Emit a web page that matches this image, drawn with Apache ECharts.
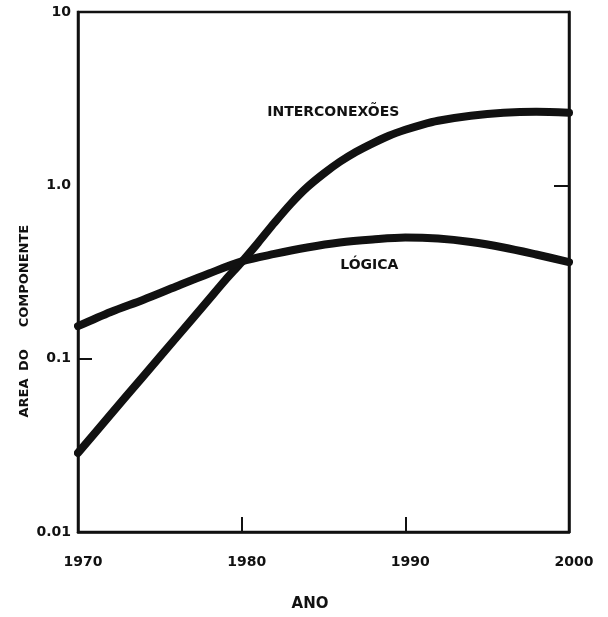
<!DOCTYPE html>
<html>
<head>
<meta charset="utf-8">
<script src="https://cdn.jsdelivr.net/npm/echarts@6/dist/echarts.min.js"></script>
<style>html,body{margin:0;padding:0;background:#fff}#c{width:608px;height:617px}</style>
</head>
<body>
<div id="c"></div>
<script>
const interYears = [1970,1972,1974,1976,1978,1979,1980,1981,1982,1983,1984,1985,1986,1987,1988,1989,1990,1991,1992,1994,1996,1998,2000];
const interconexoes = [0.0286,0.0477,0.0794,0.132,0.220,0.284,0.361,0.466,0.608,0.782,0.974,1.166,1.367,1.562,1.748,1.931,2.091,2.235,2.357,2.518,2.621,2.656,2.621];
const logicaYears = [1970,1972,1974,1976,1978,1980,1982,1984,1986,1988,1990,1992,1994,1996,1998,2000];
const logica = [0.154,0.186,0.219,0.261,0.310,0.364,0.402,0.438,0.468,0.487,0.500,0.493,0.471,0.438,0.399,0.361];
const xTicks = [1970,1980,1990,2000];
const yTicks = [0.01,0.1,1,10];
const yTickLabels = {"0.01":"0.01","0.1":"0.1","1":"1.0","10":"10"};
const seriesNames = ['INTERCONEXÕES','LÓGICA'];
const seriesLabelAt = [[1985.6, 2.63],[1987.8, 0.347]];
const xName = 'ANO';
const yNameWords = ['AREA','DO','COMPONENTE'];

const chart = echarts.init(document.getElementById('c'));
const font = '"DejaVu Sans", sans-serif';
const ink = '#111';
chart.setOption({
  backgroundColor: '#fff',
  animation: false,
  grid: {left: 78, top: 12, right: 39, bottom: 85, show: true, borderColor: ink, borderWidth: 2.5, backgroundColor: 'transparent'},
  xAxis: {
    type: 'value', min: 1970, max: 2000, interval: 10,
    axisLine: {lineStyle: {color: ink, width: 2.5}},
    axisTick: {inside: true, length: 15, lineStyle: {color: ink, width: 2}, customValues: [1980, 1990]},
    axisLabel: {color: ink, fontFamily: font, fontWeight: 'bold', fontSize: 14, margin: 23, padding: [0,0,0,10], customValues: xTicks, formatter: v => String(v)},
    splitLine: {show: false}
  },
  yAxis: [{
    type: 'log', min: 0.01, max: 10, logBase: 10,
    axisLine: {lineStyle: {color: ink, width: 2.5}},
    axisTick: {inside: true, length: 14, lineStyle: {color: ink, width: 2}, customValues: [0.1]},
    axisLabel: {color: ink, fontFamily: font, fontWeight: 'bold', fontSize: 14, margin: 7, customValues: yTicks,
      formatter: v => yTickLabels[String(+(+v).toPrecision(3))] || String(v)},
    splitLine: {show: false}
  },{
    type: 'log', min: 0.01, max: 10, logBase: 10, position: 'right',
    axisLine: {show: true, lineStyle: {color: ink, width: 2.5}},
    axisTick: {inside: true, length: 15, lineStyle: {color: ink, width: 2}, customValues: [1]},
    axisLabel: {show: false},
    splitLine: {show: false}
  }],
  series: [{
    type: 'line', name: seriesNames[0], smooth: 0.3, symbol: 'none',
    data: interYears.map((y, i) => [y, interconexoes[i]]),
    lineStyle: {color: ink, width: 8, cap: 'round', join: 'round'}
  },{
    type: 'line', name: seriesNames[1], smooth: 0.3, symbol: 'none',
    data: logicaYears.map((y, i) => [y, logica[i]]),
    lineStyle: {color: ink, width: 8, cap: 'round', join: 'round'}
  }]
});

const labelGraphics = seriesNames.map((name, i) => {
  const p = chart.convertToPixel({xAxisIndex: 0, yAxisIndex: 0}, seriesLabelAt[i]);
  return {type: 'text', x: p[0], y: p[1], style: {text: name, fill: ink, font: 'bold 14px ' + font, align: 'center', verticalAlign: 'middle'}};
});
const yNameCenters = [398, 360, 276];
const yNameGraphics = yNameWords.map((w, i) => ({
  type: 'text', x: 25, y: yNameCenters[i], rotation: Math.PI / 2,
  style: {text: w, fill: ink, font: 'bold 13px ' + font, align: 'center', verticalAlign: 'middle'}
}));
chart.setOption({
  graphic: labelGraphics.concat(yNameGraphics, [
    {type: 'text', x: 310, y: 604, style: {text: xName, fill: ink, font: 'bold 15px ' + font, align: 'center', verticalAlign: 'middle'}}
  ])
});
</script>
</body>
</html>
